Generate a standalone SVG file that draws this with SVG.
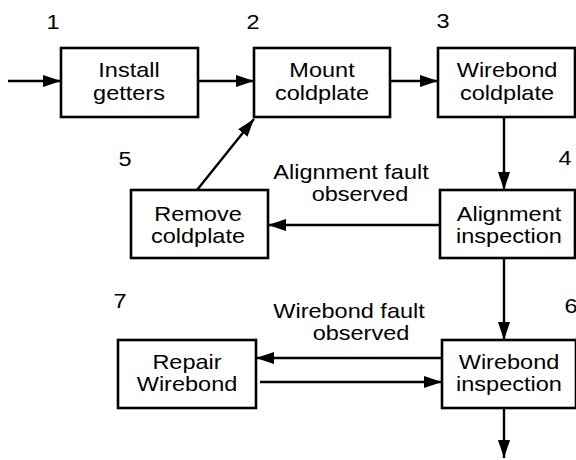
<svg xmlns="http://www.w3.org/2000/svg" width="576" height="460" viewBox="0 0 576 460">
<style>
.box{fill:#fff;stroke:#000;stroke-width:2.6}
.ln{fill:none;stroke:#000;stroke-width:2.4;marker-end:url(#ah)}
text{font-family:"Liberation Sans",Arial,Helvetica,sans-serif;font-size:21px;fill:#000;text-anchor:middle}
</style>
<defs>
<marker id="ah" markerUnits="userSpaceOnUse" markerWidth="19" markerHeight="12" refX="18" refY="6" orient="auto">
<path d="M0,0 L18,6 L0,12 z" fill="#000"/>
</marker>
</defs>
<rect width="576" height="460" fill="#fff"/>
<g id="connectors">
<path class="ln" d="M8,81 H61"/>
<path class="ln" d="M198,81 H254"/>
<path class="ln" d="M390,81 H438"/>
<path class="ln" d="M504,117 V190"/>
<path class="ln" d="M440,225 H268"/>
<path class="ln" d="M197,190 L254,119"/>
<path class="ln" d="M504,258 V340"/>
<path class="ln" d="M442,358 H256"/>
<path class="ln" d="M260,382 H442"/>
<path class="ln" d="M504,408 V458"/>
</g>
<g id="labels">
<text transform="translate(351,179) scale(1.12,1)">Alignment fault</text>
<text transform="translate(360,201) scale(1.12,1)">observed</text>
<text transform="translate(349,318) scale(1.12,1)">Wirebond fault</text>
<text transform="translate(361,340) scale(1.12,1)">observed</text>
<text transform="translate(53,29) scale(1.12,1)">1</text>
<text transform="translate(253,29) scale(1.12,1)">2</text>
<text transform="translate(443,28) scale(1.12,1)">3</text>
<text transform="translate(565,165) scale(1.12,1)">4</text>
<text transform="translate(125,166) scale(1.12,1)">5</text>
<text transform="translate(571,313) scale(1.12,1)">6</text>
<text transform="translate(120,308) scale(1.12,1)">7</text>
</g>
<g id="n1">
<rect class="box" x="61" y="48" width="137" height="69"/>
<text transform="translate(129,77) scale(1.12,1)">Install</text>
<text transform="translate(129,99.5) scale(1.12,1)">getters</text>
</g>
<g id="n2">
<rect class="box" x="254" y="48" width="136" height="69"/>
<text transform="translate(322,77) scale(1.12,1)">Mount</text>
<text transform="translate(322,99.5) scale(1.12,1)">coldplate</text>
</g>
<g id="n3">
<rect class="box" x="438" y="48" width="137" height="69"/>
<text transform="translate(507,77) scale(1.12,1)">Wirebond</text>
<text transform="translate(507,99.5) scale(1.12,1)">coldplate</text>
</g>
<g id="n4">
<rect class="box" x="440" y="190" width="135" height="68"/>
<text transform="translate(509,221) scale(1.12,1)">Alignment</text>
<text transform="translate(509,243) scale(1.12,1)">inspection</text>
</g>
<g id="n5">
<rect class="box" x="131" y="190" width="137" height="68"/>
<text transform="translate(198,221) scale(1.12,1)">Remove</text>
<text transform="translate(198,243) scale(1.12,1)">coldplate</text>
</g>
<g id="n6">
<rect class="box" x="442" y="340" width="134" height="68"/>
<text transform="translate(509,368.5) scale(1.12,1)">Wirebond</text>
<text transform="translate(509,391) scale(1.12,1)">inspection</text>
</g>
<g id="n7">
<rect class="box" x="118" y="340" width="138" height="68"/>
<text transform="translate(187,368.5) scale(1.12,1)">Repair</text>
<text transform="translate(187,391) scale(1.12,1)">Wirebond</text>
</g>
</svg>
